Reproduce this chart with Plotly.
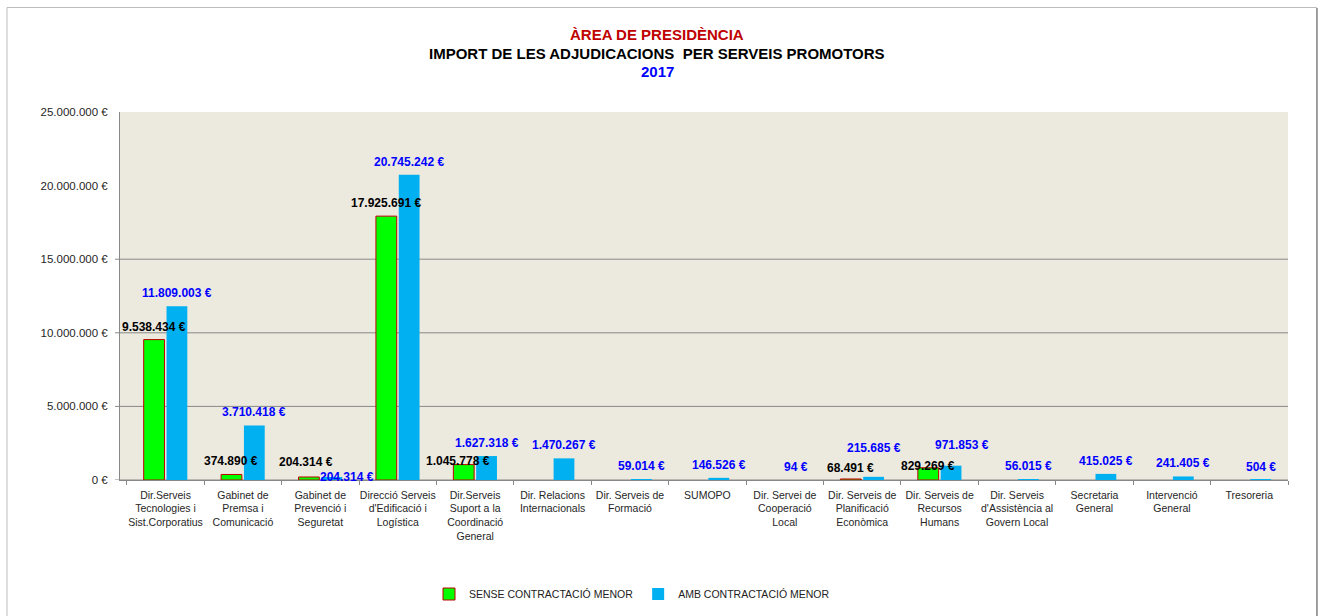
import plotly.graph_objects as go

# ---------------- data ----------------
CATEGORIES = [
    "Dir.Serveis<br>Tecnologies i<br>Sist.Corporatius",
    "Gabinet de<br>Premsa i<br>Comunicació",
    "Gabinet de<br>Prevenció i<br>Seguretat",
    "Direcció Serveis<br>d'Edificació i<br>Logística",
    "Dir.Serveis<br>Suport a la<br>Coordinació<br>General",
    "Dir. Relacions<br>Internacionals",
    "Dir. Serveis de<br>Formació",
    "SUMOPO",
    "Dir. Servei de<br>Cooperació<br>Local",
    "Dir. Serveis de<br>Planificació<br>Econòmica",
    "Dir. Serveis de<br>Recursos<br>Humans",
    "Dir. Serveis<br>d'Assistència al<br>Govern Local",
    "Secretaria<br>General",
    "Intervenció<br>General",
    "Tresoreria",
]
SENSE = [9538434, 374890, 204314, 17925691, 1045778, None, None, None,
         None, 68491, 829269, None, None, None, None]
AMB = [11809003, 3710418, 204314, 20745242, 1627318, 1470267, 59014, 146526,
       94, 215685, 971853, 56015, 415025, 241405, 504]
SERIES_NAMES = ["SENSE CONTRACTACIÓ MENOR", "AMB CONTRACTACIÓ MENOR"]
Y_TICKS = [0, 5000000, 10000000, 15000000, 20000000, 25000000]
GRID_LEVELS = [0, 5000000, 10000000, 15000000]
TITLE_LINES = ["ÀREA DE PRESIDÈNCIA",
               "IMPORT DE LES ADJUDICACIONS  PER SERVEIS PROMOTORS",
               "2017"]

# ---------------- styling ----------------
GREEN = "#00FF00"
GREEN_EDGE = "#C00000"
BLUE = "#00B0F0"
PLOT_BG = "#ECE9DF"
GRID = "#888888"
FONT = "Liberation Sans, Arial, sans-serif"

# manual label nudges (px) keyed by category index
NUDGE_SENSE = {2: (-3, 2), 4: (-6, -9), 9: (0, -2), 10: (0, -11)}
NUDGE_AMB = {2: (15, -13), 9: (0, 16), 10: (11, 8)}


def fmt(v):
    return f"{v:,}".replace(",", ".") + " €"


fig = go.Figure()
fig.add_trace(go.Bar(
    x=CATEGORIES, y=SENSE, name=SERIES_NAMES[0],
    marker=dict(color=GREEN, line=dict(color=GREEN_EDGE, width=1)),
    hoverinfo="skip",
))
fig.add_trace(go.Bar(
    x=CATEGORIES, y=AMB, name=SERIES_NAMES[1],
    marker=dict(color=BLUE, line=dict(width=0)),
    hoverinfo="skip",
))

annotations = []
for i, (cat, v) in enumerate(zip(CATEGORIES, SENSE)):
    if v is None:
        continue
    dx, dy = NUDGE_SENSE.get(i, (0, 0))
    annotations.append(dict(
        x=cat, y=v, xref="x", yref="y", text=fmt(v), showarrow=False,
        xshift=-11.5 + dx, yshift=13 + dy, yanchor="middle", xanchor="center",
        font=dict(family=FONT, size=12, color="#000000", weight="bold"),
    ))
for i, (cat, v) in enumerate(zip(CATEGORIES, AMB)):
    if v is None:
        continue
    dx, dy = NUDGE_AMB.get(i, (0, 0))
    annotations.append(dict(
        x=cat, y=v, xref="x", yref="y", text=fmt(v), showarrow=False,
        xshift=11.5 + dx, yshift=13 + dy, yanchor="middle", xanchor="center",
        font=dict(family=FONT, size=12, color="#0000FF", weight="bold"),
    ))


# titles (plot area: x 120..1288, y 112..480 in px)
def px_x(p):
    return (p - 120) / 1168


def px_y(p):
    return (480 - p) / 368


for text, ypx, color in zip(TITLE_LINES, [35, 53.5, 71.5], ["#C00000", "#000000", "#0000FF"]):
    annotations.append(dict(
        x=px_x(657), y=px_y(ypx), xref="paper", yref="paper", text=text,
        showarrow=False, xanchor="center", yanchor="middle",
        font=dict(family=FONT, size=15, color=color, weight="bold"),
    ))

shapes = []
for g in GRID_LEVELS:
    shapes.append(dict(type="line", xref="paper", yref="y", x0=px_x(115), x1=1,
                       y0=g, y1=g, line=dict(color=GRID, width=1), layer="below"))
# outer frame
shapes.append(dict(type="rect", xref="paper", yref="paper",
                   x0=px_x(7), x1=px_x(1316.5), y0=px_y(640), y1=px_y(7.5),
                   line=dict(color="#BDBDBD", width=1)))
shapes.append(dict(type="line", xref="paper", yref="paper",
                   x0=px_x(1317), x1=px_x(1317), y0=px_y(640), y1=px_y(8),
                   line=dict(color="#8A8A8A", width=1.5)))

fig.update_layout(
    width=1320, height=616,
    margin=dict(l=120, r=32, t=112, b=136, autoexpand=False),
    paper_bgcolor="white", plot_bgcolor=PLOT_BG,
    barmode="group", bargap=0.41, bargroupgap=0.09,
    separators=",.",
    showlegend=True,
    legend=dict(orientation="h", x=px_x(632), y=px_y(594), xanchor="center",
                yanchor="middle", font=dict(family=FONT, size=10.5, color="#222222"),
                itemwidth=30, bgcolor="rgba(0,0,0,0)"),
    annotations=annotations, shapes=shapes,
    font=dict(family=FONT, color="#222222"),
)
fig.update_xaxes(
    type="category", tickson="boundaries", ticks="outside", ticklen=4,
    tickangle=0, automargin=False, ticklabelstandoff=5,
    tickcolor=GRID, showline=True, linecolor=GRID, linewidth=1,
    tickfont=dict(family=FONT, size=10.5, color="#262626"),
    showgrid=False, fixedrange=True,
)
fig.update_yaxes(
    range=[0, 25000000], tickmode="array", tickvals=Y_TICKS,
    ticktext=[fmt(t) for t in Y_TICKS], automargin=False,
    showgrid=False, zeroline=False, showline=True, linecolor=GRID, linewidth=1,
    ticks="outside", ticklen=9, tickcolor="rgba(0,0,0,0)",
    tickfont=dict(family=FONT, size=11.5, color="#1f1f1f"), fixedrange=True,
)

fig.write_html("out.html", post_script="document.body.style.margin='0';",
               config={"displayModeBar": False})
